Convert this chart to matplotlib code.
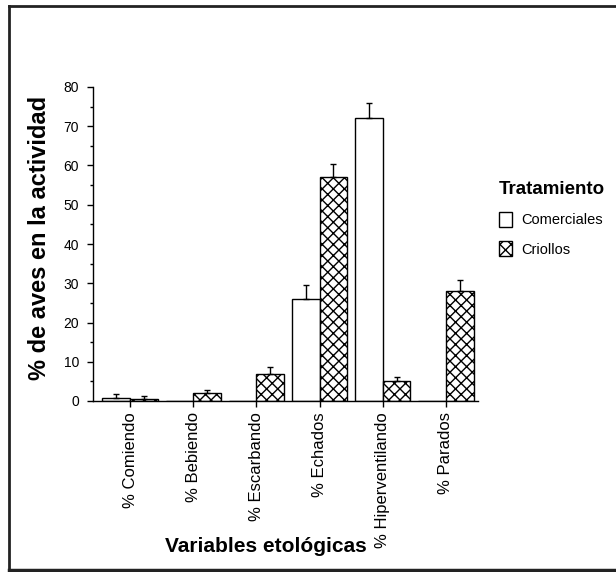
import matplotlib
matplotlib.use("Agg")
import matplotlib.pyplot as plt
import numpy as np
from matplotlib.patches import Patch
from matplotlib.lines import Line2D
from matplotlib.ticker import MultipleLocator

plt.rcParams['font.family'] = ['Liberation Sans', 'DejaVu Sans']
plt.rcParams['hatch.linewidth'] = 1.0

categories = ["% Comiendo", "% Bebiendo", "% Escarbando", "% Echados", "% Hiperventilando", "% Parados"]
comerciales = [0.8, 0.0, 0.0, 26.0, 72.0, 0.0]
comerciales_err = [0.9, 0.0, 0.0, 3.5, 3.8, 0.0]
criollos = [0.4, 2.0, 7.0, 57.0, 5.0, 28.0]
criollos_err = [0.9, 0.8, 1.7, 3.5, 1.2, 2.8]
series_names = ["Comerciales", "Criollos"]

W, H = 616, 572
fig = plt.figure(figsize=(W / 100, H / 100), dpi=100)
ax = fig.add_axes([93 / W, 1 - 401 / H, (478 - 93) / W, (401 - 87) / H])

x = np.arange(len(categories))
bw = 0.44
ax.bar(x - bw / 2, comerciales, bw, color='white', edgecolor='black', linewidth=1.0, zorder=2)
ax.bar(x + bw / 2, criollos, bw, color='white', edgecolor='black', linewidth=1.0, hatch='xxx', zorder=2)

for xs, vals, errs in [(x - bw / 2, comerciales, comerciales_err), (x + bw / 2, criollos, criollos_err)]:
    vals = np.array(vals)
    errs = np.array(errs)
    m = vals > 0
    ax.errorbar(xs[m], vals[m], yerr=[np.zeros(m.sum()), errs[m]], fmt='none',
                ecolor='black', elinewidth=1.0, capsize=2.5, capthick=1.0, zorder=3)

ax.set_xlim(-0.59, 5.51)
ax.set_ylim(0, 80)
ax.yaxis.set_major_locator(MultipleLocator(10))
ax.yaxis.set_minor_locator(MultipleLocator(5))
ax.set_xticks(x)
ax.set_xticklabels(categories, rotation=90, fontsize=12, va='top')
ax.tick_params(axis='y', which='major', direction='out', length=4, width=1, labelsize=10, pad=6)
ax.tick_params(axis='y', which='minor', direction='out', length=2, width=1)
ax.tick_params(axis='x', direction='out', length=4, width=1, pad=4)
for s in ['top', 'right']:
    ax.spines[s].set_visible(False)
for s in ['left', 'bottom']:
    ax.spines[s].set_linewidth(1.0)

fig.text(40 / W, 1 - 238 / H, "% de aves en la actividad", rotation=90, fontsize=17, fontweight='bold',
         ha='center', va='center')
fig.text(266 / W, 1 - 547 / H, "Variables etológicas", fontsize=15, fontweight='bold',
         ha='center', va='center')

handles = [Patch(facecolor='white', edgecolor='black', linewidth=1.0),
           Patch(facecolor='white', edgecolor='black', linewidth=1.0, hatch='xxx')]
leg = fig.legend(handles, series_names, loc='upper left', bbox_to_anchor=(486 / W, 1 - 168 / H),
                 frameon=False, fontsize=10.5, title="Tratamiento",
                 title_fontproperties={'weight': 'bold', 'size': 13.5},
                 handlelength=0.9, handleheight=1.2, labelspacing=0.95, handletextpad=0.6,
                 alignment='left')

# figure frame
c = '#222222'
fig.add_artist(Line2D([9 / W, 9 / W], [1 - 6 / H, 1 - 570 / H], color=c, linewidth=2))
fig.add_artist(Line2D([9 / W, 1.0], [1 - 6 / H, 1 - 6 / H], color=c, linewidth=2))
fig.add_artist(Line2D([9 / W, 1.0], [1 - 570 / H, 1 - 570 / H], color=c, linewidth=2.5))

fig.savefig("out.png", dpi=100)
